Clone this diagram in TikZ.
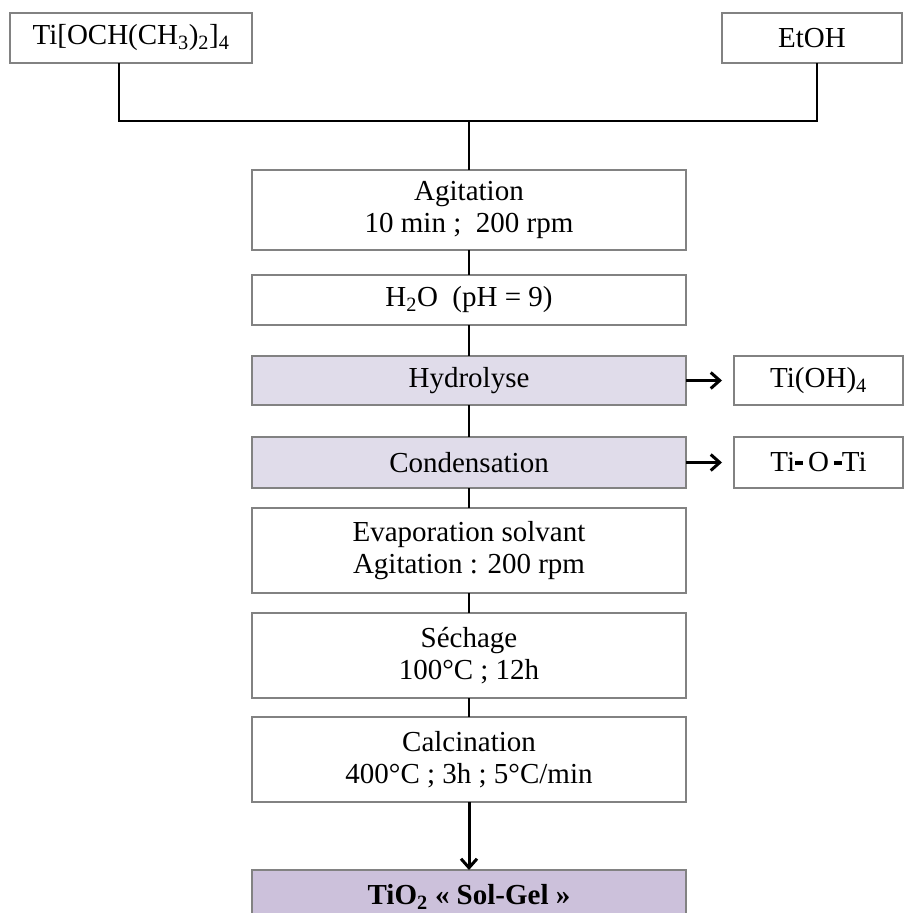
\documentclass[tikz,border=0pt]{standalone}
\usepackage{fontspec}
\setmainfont{Liberation Serif}
\usetikzlibrary{arrows.meta, positioning}
\definecolor{colBorder}{RGB}{130,130,130}
\definecolor{colStep}  {RGB}{224,220,234}
\definecolor{colProd}  {RGB}{204,193,219}
\newcommand{\bond}{\rule[7pt]{8pt}{3.5pt}}
\tikzset{
  base/.style  = {draw=colBorder, line width=1.5pt, font=\fontsize{29}{32}\selectfont,
                  align=center, inner sep=2pt, outer sep=0pt},
  zbox/.style  = {base, minimum width=434pt},
  zstep/.style = {zbox, fill=colStep},
  zprod/.style = {zbox, fill=colProd, font=\fontsize{29}{32}\selectfont\bfseries},
  zside/.style = {base, minimum width=169pt},
  link/.style  = {line width=2.2pt},
  arr/.style   = {-{Straight Barb[length=9pt, width=16pt]}, line width=3pt},
}
\begin{document}
\begin{tikzpicture}[x=1pt, y=-1pt]

\clip (0,0) rectangle (905,913);

%% ── reagents ────────────────────────────────────────────────────────────────
\node[base, minimum width=242pt, minimum height=50pt] (tiso) at (131,38)
  {Ti[OCH(CH\textsubscript{3})\textsubscript{2}]\textsubscript{4}};
\node[base, minimum width=180pt, minimum height=50pt] (etoh) at (812,38) {EtOH};

%% ── main column ─────────────────────────────────────────────────────────────
\node[zbox,  minimum height=80pt] (agit) at (469,210) {Agitation\\10 min ;~~200 rpm};
\node[zbox,  minimum height=50pt, below=25pt of agit]  (water) {H\textsubscript{2}O~~(pH = 9)};
\node[zstep, minimum height=49pt, below=31pt of water] (hydro) {Hydrolyse};
\node[zstep, minimum height=51pt, below=32pt of hydro] (cond)  {Condensation};
\node[zbox,  minimum height=85pt, below=20pt of cond]  (evap)  {Evaporation solvant\\Agitation : 200 rpm};
\node[zbox,  minimum height=85pt, below=20pt of evap]  (sech)  {Séchage\\100°C ; 12h};
\node[zbox,  minimum height=85pt, below=19pt of sech]  (calc)  {Calcination\\400°C ; 3h ; 5°C/min};
\node[zprod, minimum height=54pt, below=68pt of calc]  (tio)   {TiO\textsubscript{2} « Sol-Gel »};

%% ── side products ───────────────────────────────────────────────────────────
\node[zside, minimum height=49pt, right=48pt of hydro] (tioh)  {Ti(OH)\textsubscript{4}};
\node[zside, minimum height=51pt, right=48pt of cond]  (tioti) {Ti\bond\,O\,\bond Ti};

%% ── mixing lines ────────────────────────────────────────────────────────────
\coordinate (join) at (469,121);
\draw[link] ([xshift=-12pt]tiso.south) |- (join);
\draw[link] ([xshift=5pt]etoh.south)   |- (join);
\draw[link] (join) -- (agit.north);

%% ── main links ──────────────────────────────────────────────────────────────
\draw[link] (agit)  -- (water);
\draw[link] (water) -- (hydro);
\draw[link] (hydro) -- (cond);
\draw[link] (cond)  -- (evap);
\draw[link] (evap)  -- (sech);
\draw[link] (sech)  -- (calc);
\draw[arr]  (calc)  -- (tio);

%% ── side arrows ─────────────────────────────────────────────────────────────
\draw[arr] (hydro) -- ([xshift=-12pt]tioh.west);
\draw[arr] (cond)  -- ([xshift=-12pt]tioti.west);

\end{tikzpicture}
\end{document}
